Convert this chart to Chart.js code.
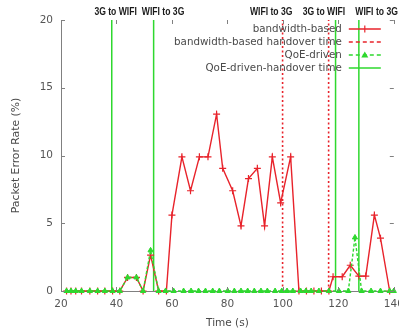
<!DOCTYPE html>
<html><head><meta charset="utf-8">
<script src="https://cdn.jsdelivr.net/npm/chart.js@4.4.1/dist/chart.umd.min.js"></script>
<style>
html,body{margin:0;padding:0;background:#fff;overflow:hidden}
#wrap{width:399px;height:333px;overflow:hidden;position:relative}
canvas{display:block}
</style>
</head><body>
<div id="wrap"><canvas id="c" width="399" height="333" style="width:399px;height:333px"></canvas></div>
<script>
// ---- data ----
const bwTimes  = [22.0,23.6,25.3,27.4,30.4,33.2,35.8,38.6,41.2,44.0,47.2,49.6,52.3,55.2,58.0,60.0,63.6,66.7,69.9,73.0,76.1,78.3,81.9,84.9,87.6,90.8,93.4,96.2,99.2,102.8,105.8,108.5,111.2,113.9,116.6,118.1,121.4,124.3,127.4,129.9,133.0,135.2,138.5];
const bwValues = [0,0,0,0,0,0,0,0,0,1.0,1.0,0,2.65,0,0,5.6,9.9,7.4,9.9,9.9,13.05,9.05,7.4,4.8,8.3,9.05,4.8,9.9,6.5,9.9,0,0,0,0,0,1.05,1.05,1.9,1.1,1.1,5.6,3.9,0];
const qoeTimes  = [22.0,23.6,25.3,27.4,30.4,33.2,35.8,38.6,41.2,44.0,47.2,49.6,52.3,55.2,57.7,60.6,64.2,66.9,69.6,72.1,74.7,77.1,80.1,82.5,84.9,87.3,89.7,92.1,94.4,97.2,99.6,101.5,103.6,106.4,108.3,110.2,113.0,116.6,120.2,123.6,126.0,128.4,131.8,135.2,138.5,140.0];
const qoeValues = [0,0,0,0,0,0,0,0,0,1.0,1.0,0,3.0,0,0,0,0,0,0,0,0,0,0,0,0,0,0,0,0,0,0,0,0,0,0,0,0,0,0,0,3.95,0,0,0,0,0];
const bwHandoverTimes  = [99.9,116.5];
const qoeHandoverTimes = [38.3,53.4,119.0,127.4];
const eventLabels     = ['3G to WIFI','WIFI to 3G','WIFI to 3G','3G to WIFI','WIFI to 3G'];
const eventLabelTimes = [39.7,56.8,95.8,114.8,133.8];
const legendLabels = ['bandwidth-based','bandwidth-based handover time','QoE-driven','QoE-driven-handover time'];
const xTickValues = [20,40,60,80,100,120,140];
const yTickValues = [0,5,10,15,20];

const RED = '#e8232b', GREEN = '#2ed82e', AXIS = '#808080', TXT = '#4a4a4a';

const toPts = (ts, vs) => ts.map((t,i)=>({x:t,y:vs[i]}));
const datasets = [];
datasets.push({label:legendLabels[0], data:toPts(bwTimes,bwValues), borderColor:RED, backgroundColor:RED,
  borderWidth:1.4, pointStyle:'cross', pointRadius:3.5, pointBorderWidth:1.2, pointBorderColor:RED, tension:0, order:2});
datasets.push({label:legendLabels[2], data:toPts(qoeTimes,qoeValues), borderColor:GREEN, backgroundColor:GREEN,
  borderWidth:1.4, borderDash:[3,2], pointStyle:'triangle', pointRadius:3, pointBorderWidth:1, pointBorderColor:GREEN, pointBackgroundColor:GREEN, tension:0, order:1});
bwHandoverTimes.forEach(t=>datasets.push({label:legendLabels[1], data:[{x:t,y:0},{x:t,y:20}], borderColor:RED,
  borderWidth:1.6, borderDash:[2,2.5], pointRadius:0, order:3}));
qoeHandoverTimes.forEach(t=>datasets.push({label:legendLabels[3], data:[{x:t,y:0},{x:t,y:20}], borderColor:GREEN,
  borderWidth:1.5, pointRadius:0, order:3}));

const decor = {
  id:'decor',
  afterDatasetsDraw(chart){
    const {ctx, chartArea:a, scales:{x,y}} = chart;
    ctx.save();
    // inward ticks on all four sides
    ctx.strokeStyle = AXIS; ctx.lineWidth = 1;
    ctx.beginPath();
    xTickValues.forEach(v=>{ const px=Math.round(x.getPixelForValue(v))+0.5;
      ctx.moveTo(px,a.bottom); ctx.lineTo(px,a.bottom-4);
      ctx.moveTo(px,a.top); ctx.lineTo(px,a.top+4); });
    yTickValues.forEach(v=>{ const py=Math.round(y.getPixelForValue(v))+0.5;
      ctx.moveTo(a.left,py); ctx.lineTo(a.left+4,py);
      ctx.moveTo(a.right,py); ctx.lineTo(a.right-4,py); });
    ctx.stroke();
    // event labels above plot (condensed)
    ctx.fillStyle = '#1a1a1a';
    ctx.font = 'bold 10px "Liberation Sans", sans-serif';
    ctx.textAlign = 'center'; ctx.textBaseline = 'middle';
    const sx = 0.86;
    eventLabels.forEach((s,i)=>{ const px = x.getPixelForValue(eventLabelTimes[i]);
      ctx.save(); ctx.translate(px, 12.5); ctx.scale(sx,1); ctx.fillText(s, 0, 0); ctx.restore(); });
    // legend
    ctx.font = '10.3px "DejaVu Sans", sans-serif';
    ctx.fillStyle = TXT; ctx.textAlign = 'right';
    const tx = a.right - 52, l0 = a.right - 45, l1 = a.right - 13, mid = (l0+l1)/2;
    const rows = [a.top+9, a.top+22, a.top+35, a.top+48];
    legendLabels.forEach((s,i)=>ctx.fillText(s, tx, rows[i]));
    const seg = (yy,col,dash,w)=>{ ctx.save(); ctx.strokeStyle=col; ctx.lineWidth=w; ctx.setLineDash(dash);
      ctx.beginPath(); ctx.moveTo(l0,yy); ctx.lineTo(l1,yy); ctx.stroke(); ctx.restore(); };
    seg(rows[0],RED,[],1.5);
    ctx.strokeStyle=RED; ctx.lineWidth=1.2; ctx.beginPath();
    ctx.moveTo(mid,rows[0]-3.5); ctx.lineTo(mid,rows[0]+3.5); ctx.stroke();
    seg(rows[1],RED,[4,3],1.3);
    seg(rows[2],GREEN,[4,3],1.3);
    ctx.fillStyle=GREEN; ctx.beginPath();
    ctx.moveTo(mid,rows[2]-3.5); ctx.lineTo(mid+3.5,rows[2]+2.5); ctx.lineTo(mid-3.5,rows[2]+2.5); ctx.closePath(); ctx.fill();
    seg(rows[3],GREEN,[],1.6);
    ctx.restore();
  }
};

new Chart(document.getElementById('c'), {
  type:'line',
  data:{datasets},
  options:{
    responsive:false, animation:false, clip:false,
    layout:{padding:{top:20,right:4,left:10,bottom:0}},
    plugins:{legend:{display:false}, tooltip:{enabled:false}},
    scales:{
      x:{type:'linear', min:20, max:140,
        afterBuildTicks:s=>{ s.ticks = xTickValues.map(v=>({value:v})); },
        afterFit:s=>{ s.height = 42; s.paddingRight = 0; s.paddingLeft = 0; },
        ticks:{color:'#555', font:{family:'DejaVu Sans', size:10.5}, padding:7, maxRotation:0},
        grid:{display:false, drawTicks:false},
        border:{display:true, color:AXIS, width:1},
        title:{display:true, text:'Time (s)', color:TXT, font:{family:'DejaVu Sans', size:10.5}, padding:{top:4,bottom:3}}},
      y:{min:0, max:20,
        afterBuildTicks:s=>{ s.ticks = yTickValues.map(v=>({value:v})); },
        afterFit:s=>{ s.width = 51; },
        ticks:{color:'#555', font:{family:'DejaVu Sans', size:10.5}, padding:8},
        grid:{display:false, drawTicks:false},
        border:{display:true, color:AXIS, width:1},
        title:{display:true, text:'Packet Error Rate (%)', color:TXT, font:{family:'DejaVu Sans', size:10.8}, padding:{top:0,bottom:8}}}
    }
  },
  plugins:[decor]
});
</script>
</body></html>
